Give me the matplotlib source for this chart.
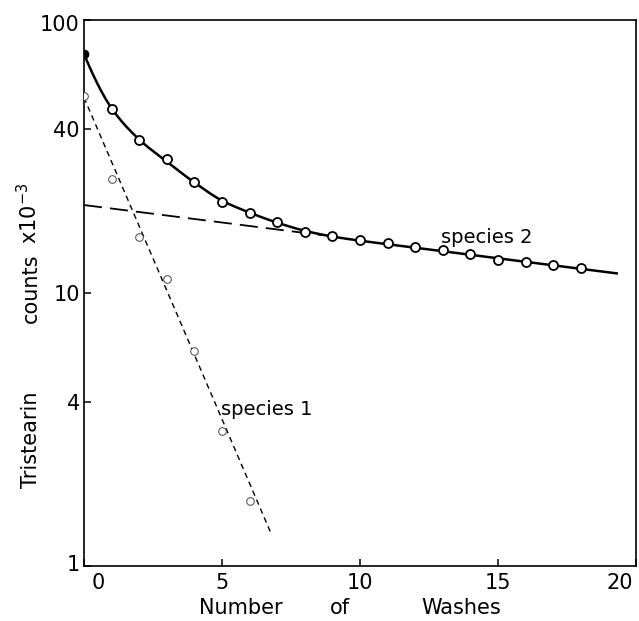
import numpy as np
import matplotlib
matplotlib.use("Agg")
import matplotlib.pyplot as plt
from matplotlib.transforms import ScaledTranslation

# ---- data ----
washes = [0, 1, 2, 3, 4, 5, 6, 7, 8, 9, 10, 11, 12, 13, 14, 15, 16, 17, 18]
total_counts = [75, 47.2, 36.3, 30.9, 25.5, 21.6, 19.7, 18.2, 16.7, 16.2,
                15.7, 15.2, 14.7, 14.4, 13.9, 13.2, 13.0, 12.7, 12.3]

species1_x = [0, 1, 2, 3, 4, 5, 6]
species1_counts = [52.5, 26.2, 16.0, 11.3, 6.15, 3.12, 1.73]

# fitted straight lines (on log scale), end points
species1_line_x = [0, 6.8]
species1_line_y = [52.0, 1.30]
species2_line_x = [0, 8.6]
species2_line_y = [21.0, 16.3]

# vertices of the drawn smooth (total) curve
curve_x = [0, 1, 2, 3, 4, 5, 6, 7, 8, 9, 12, 15, 19.3]
curve_y = [75, 47.5, 36.5, 30.3, 25.4, 21.8, 19.7, 18.1, 16.9, 16.1, 14.66, 13.4, 11.8]

xticks = [0, 5, 10, 15, 20]
xtick_labels = ["0", "5", "10", "15", "20"]
yticks = [1, 4, 10, 40, 100]
ytick_labels = ["1", "4", "10", "40", "100"]


def pchip(x, y, xn):
    x = np.asarray(x, float); y = np.asarray(y, float)
    h = np.diff(x); d = np.diff(y) / h
    n = len(x); m = np.zeros(n)
    for k in range(1, n - 1):
        if d[k - 1] * d[k] > 0:
            w1 = 2 * h[k] + h[k - 1]; w2 = h[k] + 2 * h[k - 1]
            m[k] = (w1 + w2) / (w1 / d[k - 1] + w2 / d[k])
    m[0] = ((2 * h[0] + h[1]) * d[0] - h[0] * d[1]) / (h[0] + h[1])
    if np.sign(m[0]) != np.sign(d[0]):
        m[0] = 0
    m[-1] = d[-1]
    idx = np.clip(np.searchsorted(x, xn) - 1, 0, n - 2)
    t = (xn - x[idx]) / h[idx]
    h00 = 2 * t**3 - 3 * t**2 + 1; h10 = t**3 - 2 * t**2 + t
    h01 = -2 * t**3 + 3 * t**2; h11 = t**3 - t**2
    return h00 * y[idx] + h10 * h[idx] * m[idx] + h01 * y[idx + 1] + h11 * h[idx] * m[idx + 1]


fig = plt.figure(figsize=(6.39, 6.21), dpi=100)
ax = fig.add_axes([84 / 639, 1 - 566 / 621, (636 - 84) / 639, (566 - 20) / 621])

xs = np.linspace(curve_x[0], curve_x[-1], 400)
ys = 10 ** pchip(curve_x, np.log10(curve_y), xs)
ax.plot(xs, ys, color="black", lw=1.8, zorder=3)

ax.plot(species2_line_x, species2_line_y, color="black", lw=1.3,
        dashes=(10, 4.5), zorder=2)
ax.plot(species1_line_x, species1_line_y, color="black", lw=1.0,
        dashes=(4, 3), zorder=2)

ax.plot(washes[1:], total_counts[1:], "o", ms=6.5, mfc="white", mec="black",
        mew=1.3, zorder=4)
ax.plot(washes[:1], total_counts[:1], "o", ms=6, mfc="black", mec="black", zorder=4)
ax.plot(species1_x, species1_counts, "o", ms=5.5, mfc="white", mec="#444444",
        mew=0.7, zorder=4)

ax.set_yscale("log")
ax.set_xlim(0, 20)
ax.set_ylim(1, 100)
ax.set_xticks(xticks)
ax.set_xticklabels(xtick_labels)
ax.set_yticks(yticks)
ax.set_yticklabels(ytick_labels)
ax.minorticks_off()
ax.tick_params(direction="in", length=5, width=1.1, labelsize=15)
ax.tick_params(axis="x", pad=5)
ax.tick_params(axis="y", pad=3)
for s in ax.spines.values():
    s.set_linewidth(1.2)

labs = ax.get_xticklabels()
labs[0].set_transform(labs[0].get_transform() + ScaledTranslation(14 / 100, 0, fig.dpi_scale_trans))
labs[-1].set_transform(labs[-1].get_transform() + ScaledTranslation(-16 / 100, 0, fig.dpi_scale_trans))
ylabs = ax.get_yticklabels()
ylabs[0].set_transform(ylabs[0].get_transform() + ScaledTranslation(0, 3 / 100, fig.dpi_scale_trans))
ylabs[-1].set_transform(ylabs[-1].get_transform() + ScaledTranslation(0, -3 / 100, fig.dpi_scale_trans))

ax.text(12.93, 16.0, "species 2", fontsize=14, ha="left", va="center")
ax.text(4.95, 3.73, "species 1", fontsize=14, ha="left", va="center")

W, H = 639, 621
fig.text(241 / W, 1 - 608 / H, "Number", fontsize=15, ha="center", va="center")
fig.text(340 / W, 1 - 608 / H, "of", fontsize=15, ha="center", va="center")
fig.text(461 / W, 1 - 608 / H, "Washes", fontsize=15, ha="center", va="center")

fig.text(31 / W, 1 - 440 / H, "Tristearin", fontsize=15, rotation=90, ha="center", va="center")
fig.text(31 / W, 1 - 288 / H, "counts", fontsize=15, rotation=90, ha="center", va="center")
fig.text(29 / W, 1 - 213 / H, "x10$^{-3}$", fontsize=15, rotation=90, ha="center", va="center")

fig.savefig("out.png", dpi=100)
